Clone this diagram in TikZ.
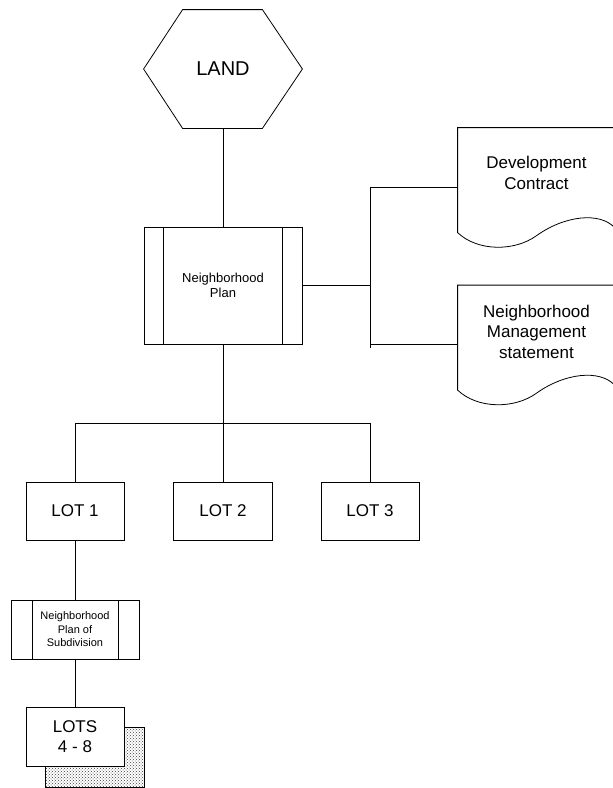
\documentclass[tikz,border=0pt]{standalone}
\usepackage{fontspec}
\setmainfont{Liberation Sans}
\usetikzlibrary{calc,patterns}
\begin{document}
\begin{tikzpicture}[x=1pt,y=-1pt,line width=0.8pt,
  box/.style={draw, rectangle, inner sep=0pt, align=center},
  big/.style={font=\fontsize{17}{20.5}\selectfont},
  procbox/.style={box, path picture={
    \draw ([xshift=#1]path picture bounding box.north west) -- ([xshift=#1]path picture bounding box.south west)
          ([xshift=-#1]path picture bounding box.north east) -- ([xshift=-#1]path picture bounding box.south east);}},
  docbox/.style={inner sep=0pt, minimum width=157pt, minimum height=118pt},
  conn/.style={draw, line width=0.8pt}]
\useasboundingbox (0,0) rectangle (613,788);
\clip (0,0) rectangle (613,788);

% LAND hexagon
\node[inner sep=0pt, minimum width=158pt, minimum height=118pt,
      font=\fontsize{20}{24}\selectfont] (land) at (223,69) {LAND};
\draw ($(land.west)$) -- ($(land.north west)+(39,0)$) -- ($(land.north east)+(-40,0)$)
  -- (land.east) -- ($(land.south east)+(-40,0)$) -- ($(land.south west)+(39,0)$) -- cycle;

% Neighborhood Plan
\node[procbox=19.5pt, minimum width=158pt, minimum height=117pt,
      font=\fontsize{13}{15}\selectfont] (plan) at (223,285.5) {Neighborhood\\Plan};

% Documents
\node[docbox] (dev) at (536.5,187) {};
\node[docbox] (mgmt) at (536.5,344.5) {};
\foreach \d in {dev,mgmt}{
  \begin{scope}[shift={(\d.north west)}]
    \draw (0,0) -- (157,0) -- (157,100) .. controls (142,84) and (107,88) .. (79,108)
      .. controls (57,124) and (20,124) .. (0,105) -- cycle;
  \end{scope}
}
\node[big, align=center] (devt) at ($(dev.center)+(0,-14)$) {Development\\Contract};
\node[big, align=center] (mgmtt) at ($(mgmt.center)+(0,-13)$) {Neighborhood\\Management\\statement};

% Lots
\node[box, big, minimum width=98pt, minimum height=58pt] (lot1) at (75,511) {LOT 1};
\node[box, big, minimum width=99pt, minimum height=58pt] (lot2) at (223,511) {LOT 2};
\node[box, big, minimum width=98pt, minimum height=58pt] (lot3) at (370,511) {LOT 3};

% Plan of subdivision
\node[procbox=21pt, minimum width=128pt, minimum height=59pt,
      font=\fontsize{11}{13.5}\selectfont] (sub) at (75,629.5) {Neighborhood\\Plan of\\Subdivision};

% LOTS 4 - 8 with shadow
\node[draw, inner sep=0pt, minimum width=99pt, minimum height=60pt,
      fill=white, pattern=crosshatch dots, pattern color=black!75] (shadow) at (94.5,757) {};
\node[box, big, fill=white, minimum width=98pt, minimum height=59pt] (lots) at (75,736.5) {LOTS\\4 - 8};

% Connectors
\coordinate (jr) at (370,286);
\coordinate (jb) at (223,423);
\draw (land.south) -- (plan.north);
\draw (plan.east) -- (plan.east -| jr);
\draw (dev.west -| jr) -- ($(mgmt.west -| jr)+(0,3)$);
\draw (dev.west -| jr) -- (dev.west);
\draw (mgmt.west -| jr) -- (mgmt.west);
\draw (plan.south) -- (jb);
\draw (lot1.north) -- (lot1.north |- jb) -- (lot3.north |- jb) -- (lot3.north);
\draw (jb) -- (lot2.north);
\draw (lot1.south) -- (sub.north);
\draw (sub.south) -- (lots.north);
\end{tikzpicture}
\end{document}
